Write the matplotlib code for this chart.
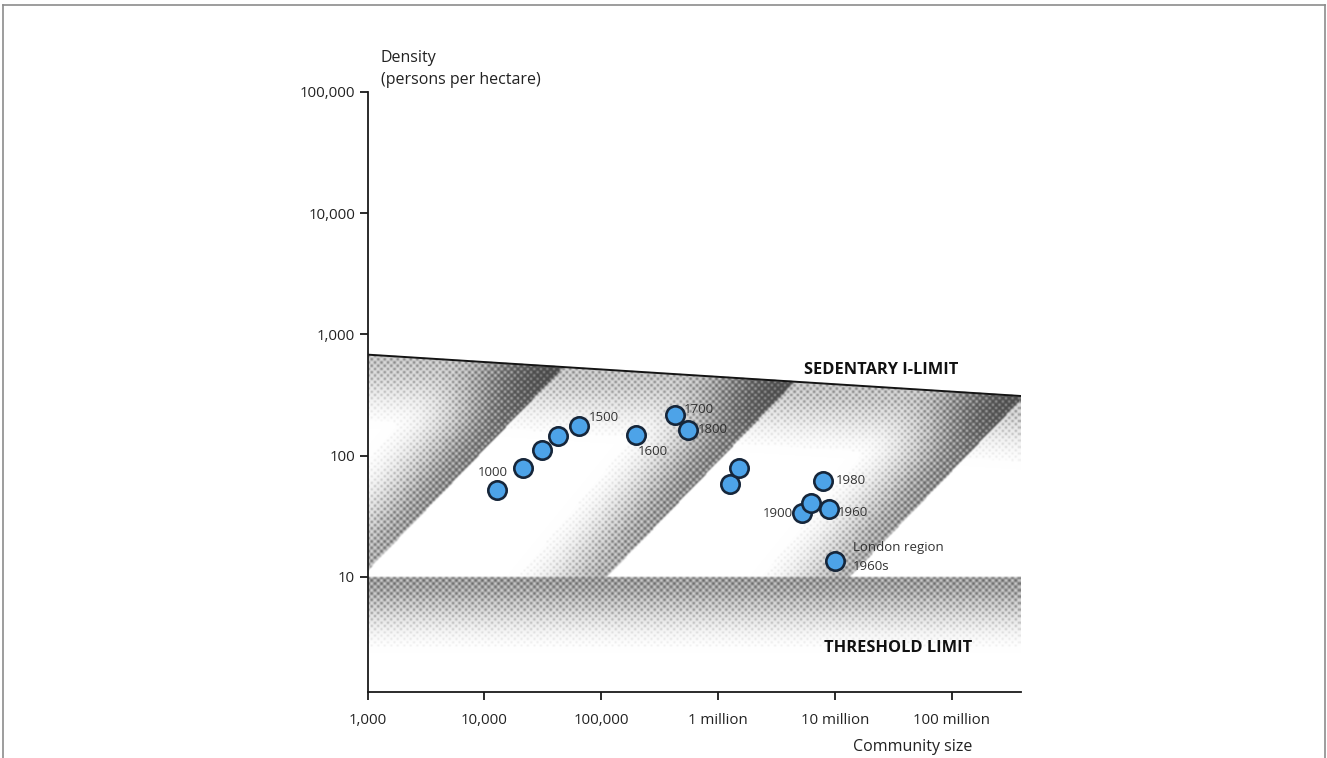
import numpy as np
import matplotlib
matplotlib.use('Agg')
import matplotlib.pyplot as plt
from matplotlib.lines import Line2D

plt.rcParams['font.family'] = ['Open Sans', 'DejaVu Sans']

# settlements: community size (persons) vs density (persons per hectare)
sizes = [12900, 21200, 31000, 42300, 64900, 199000, 424000, 558000,
         1.26e6, 1.50e6, 7.94e6, 5.27e6, 6.29e6, 8.87e6, 9.98e6]
densities = [52.2, 78.8, 111, 144, 174, 148, 217, 163,
             58.5, 78.8, 61.1, 33.5, 40.5, 36.1, 13.4]

label_texts = ['1000', '1500', '1600', '1700', '1800', '1980', '1900', '1960',
               'London region', '1960s']
label_sizes = [15850, 78200, 205600, 509000, 671000, 1.02e7, 4.37e6, 1.06e7,
               1.43e7, 1.43e7]
label_dens = [72, 205, 107, 238, 163, 62, 33, 33.7, 17.3, 12.1]
label_align = ['right', 'left', 'left', 'left', 'left', 'left', 'right', 'left',
               'left', 'left']

# upper limit line and lower threshold
sed_size = [1e3, 3.9e8]
sed_density = [680, 310]
threshold = 10
# constant-area band edges (hectares)
band_areas = [89, 11200, 1.35e6]

xticks = [1e3, 1e4, 1e5, 1e6, 1e7, 1e8]
xtick_labels = ['1,000', '10,000', '100,000', '1 million', '10 million', '100 million']
yticks = [10, 100, 1e3, 1e4, 1e5]
ytick_labels = ['10', '100', '1,000', '10,000', '100,000']

fig = plt.figure(figsize=(13.27, 7.58), dpi=100)
ax = fig.add_axes([0.277, 0.0871, 0.4922, 0.7916])
ax.set_xscale('log')
ax.set_yscale('log')
ax.set_xlim(1e3, 3.9e8)
ax.set_ylim(1.12, 1e5)
ax.patch.set_visible(False)
ax.set_zorder(2)

# --- halftone shading, computed per screen pixel of the axes ---
bb = ax.get_window_extent()
x0, y0 = int(round(bb.x0)), int(round(bb.y0))
x1, y1 = int(round(bb.x1)), int(round(bb.y1))
W, H = x1 - x0, y1 - y0
px = x0 + np.arange(W) + 0.5
py = y1 - np.arange(H) - 0.5
PX, PY = np.meshgrid(px, py)
data = ax.transData.inverted().transform(np.column_stack([PX.ravel(), PY.ravel()]))
lx = np.log10(data[:, 0]).reshape(H, W)
ly = np.log10(data[:, 1]).reshape(H, W)


def smooth(t):
    t = np.clip(t, 0, 1)
    return t * t * (3 - 2 * t)


sed = np.interp(lx, np.log10(sed_size), np.log10(sed_density))
lthr = np.log10(threshold)
L = lx - ly
band = np.zeros_like(lx)
for E in np.log10(band_areas):
    w = 0.85 + 0.15 * np.clip(ly - 1, 0, None)
    t = (E - L) / w
    b = np.where(t >= 0, smooth(1 - t) ** 1.1, 0)
    band = np.maximum(band, b)
band *= 0.42 + 0.3 * np.clip(ly - 1, 0, 1.8) / 1.8
top = 0.35 * smooth(1 - (sed - ly) / 0.6)
d = 1 - (1 - band) * (1 - top)
d = np.where((ly >= lthr) & (ly <= sed), d, 0)
thr = np.where(ly < lthr, 0.5 * smooth(1 - (lthr - ly) / 0.62), 0)
d = np.maximum(d, thr)

jj, ii = np.meshgrid(np.arange(W), np.arange(H))
u = (jj + ii) / np.sqrt(2)
v = (jj - ii) / np.sqrt(2)
P = 4.6
screen = 0.5 + 0.25 * (np.cos(2 * np.pi * u / P) + np.cos(2 * np.pi * v / P))
ink = np.clip((d - screen) / 0.3 + 0.5, 0, 1) * (d > 0.01)
tone = 1 - 0.8 * (0.45 * ink + 0.55 * d)
# soften the screen a little
k = np.array([0.25, 0.5, 0.25])
tone = np.apply_along_axis(lambda r: np.convolve(r, k, mode='same'), 1, tone)
tone = np.apply_along_axis(lambda c: np.convolve(c, k, mode='same'), 0, tone)
tone[:, 0] = tone[:, 1]
tone[:, -1] = tone[:, -2]
tone[0, :] = tone[1, :]
tone[-1, :] = tone[-2, :]
rgb = np.dstack([tone, tone, tone])
fig.figimage(rgb, xo=x0, yo=y0, origin='upper', zorder=0)

# limit line
ax.plot(sed_size, sed_density, color='#141414', lw=1.4, zorder=2)

# settlements
ax.scatter(sizes, densities, s=175, c='#4da3e8', edgecolors='#16263a',
           linewidths=1.9, zorder=4)
for txt, xs, yd, ha in zip(label_texts, label_sizes, label_dens, label_align):
    ax.text(xs, yd, txt, ha=ha, va='center', fontsize=9.5, color='#333333', zorder=5)

ax.text(5.4e6, 509, 'SEDENTARY I-LIMIT', fontsize=11.8, fontweight='bold',
        ha='left', va='center', color='#111111')
ax.text(8.1e6, 2.6, 'THRESHOLD LIMIT', fontsize=11.8, fontweight='bold',
        ha='left', va='center', color='#111111')

# axes styling
for side in ['top', 'right']:
    ax.spines[side].set_visible(False)
for side in ['left', 'bottom']:
    ax.spines[side].set_linewidth(1.3)
    ax.spines[side].set_color('#1a1a1a')
ax.set_xticks(xticks)
ax.set_xticklabels(xtick_labels)
ax.set_yticks(yticks)
ax.set_yticklabels(ytick_labels)
ax.minorticks_off()
ax.tick_params(direction='out', length=6, width=1.3, color='#1a1a1a',
               labelsize=10.8, labelcolor='#222222')
ax.tick_params(axis='x', pad=9)
ax.tick_params(axis='y', pad=3)

ax.text(0.02, 1.057, 'Density', transform=ax.transAxes, fontsize=11.5,
        ha='left', va='center', color='#222222')
ax.text(0.02, 1.020, '(persons per hectare)', transform=ax.transAxes, fontsize=11.5,
        ha='left', va='center', color='#222222')
ax.text((973 - 367) / 654, -0.092, 'Community size', transform=ax.transAxes,
        fontsize=11.5, ha='right', va='center', color='#222222')

# thin frame round the figure
frame = dict(color='#8c8c8c', lw=1.2, transform=fig.transFigure)
fig.add_artist(Line2D([3 / 1327, 1325 / 1327], [1 - 5 / 758, 1 - 5 / 758], **frame))
fig.add_artist(Line2D([3 / 1327, 3 / 1327], [0, 1 - 5 / 758], **frame))
fig.add_artist(Line2D([1325 / 1327, 1325 / 1327], [0, 1 - 5 / 758], **frame))

fig.savefig('out.png', dpi=100)
